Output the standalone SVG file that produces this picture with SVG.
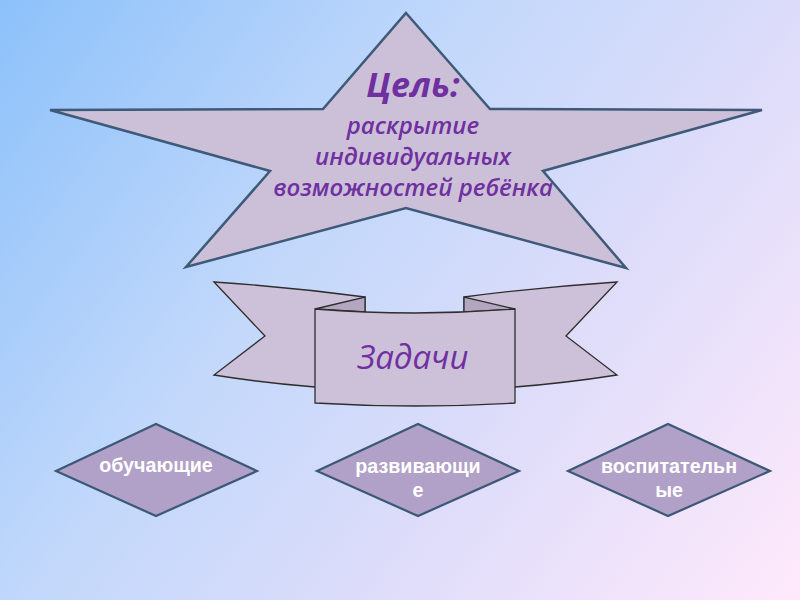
<svg xmlns="http://www.w3.org/2000/svg" width="800" height="600" viewBox="0 0 800 600">
<defs>
<linearGradient id="bg" gradientUnits="userSpaceOnUse" x1="0" y1="0" x2="800" y2="600">
<stop offset="0" stop-color="#8cc1fa"/>
<stop offset="0.38" stop-color="#c2d8fb"/>
<stop offset="0.64" stop-color="#dcdcfa"/>
<stop offset="1" stop-color="#ffe9fb"/>
</linearGradient>
<style>
.star{fill:#ccc0d9;stroke:#3e5a78;stroke-width:2.5;stroke-linejoin:miter}
.rib{fill:#ccc1d9;stroke:#2e2e2e;stroke-width:1.3;stroke-linejoin:miter}
.fold{fill:#b2a6c0;stroke:#2e2e2e;stroke-width:1.3}
.dia{fill:#b1a0c7;stroke:#3b5876;stroke-width:2.2}
.goal{font-family:"Open Sans","DejaVu Sans",sans-serif;font-style:italic;fill:#7030a0;text-anchor:middle}
.dt{font-family:"Liberation Sans",Arial,sans-serif;font-weight:bold;font-size:20.5px;fill:#ffffff;text-anchor:middle}
</style>
</defs>
<rect x="0" y="0" width="800" height="600" fill="url(#bg)"/>

<g id="goal-star">
<polygon class="star" points="406,13 490,109 762,110 543,171 626,268 406,208 186,267 270,171 50,110 323,109"/>
<text class="goal" x="413" y="97" font-size="34" font-weight="bold">Цель:</text>
<text class="goal" font-size="24" font-weight="600"><tspan x="413" y="134">раскрытие</tspan><tspan x="413" y="165">индивидуальных</tspan><tspan x="413" y="196">возможностей ребёнка</tspan></text>
</g>

<g id="tasks-ribbon">
<path class="rib" d="M214,282 Q290,287 365,297 L365,380 L315,387 Q264,383 214,375 L265,336 Z"/>
<path class="rib" d="M617,282 Q541,287 464,297 L464,380 L515,387 Q566,383 617,375 L566,336 Z"/>
<path class="fold" d="M315,309 L365,297 L365,312 Z"/>
<path class="fold" d="M515,309 L464,297 L464,312 Z"/>
<path class="rib" d="M315,309 Q415,317 515,309 L515,403 Q415,409 315,403 Z"/>
<text class="goal" x="413" y="369" font-size="33" font-weight="500">Задачи</text>
</g>

<g id="task-teaching">
<polygon class="dia" points="56,471 156,424 257,471 156,516"/>
<text class="dt" transform="translate(156,472) scale(0.96,1)">обучающие</text>
</g>

<g id="task-developing">
<polygon class="dia" points="317,471 418,424 519,471 418,516"/>
<text class="dt" transform="translate(418,473) scale(0.96,1)"><tspan x="0" y="0">развивающи</tspan><tspan x="0" y="24">е</tspan></text>
</g>

<g id="task-upbringing">
<polygon class="dia" points="568,471 668,424 770,471 668,516"/>
<text class="dt" transform="translate(669,473) scale(0.96,1)"><tspan x="0" y="0">воспитательн</tspan><tspan x="0" y="24">ые</tspan></text>
</g>

<g id="connectors"></g>
</svg>
